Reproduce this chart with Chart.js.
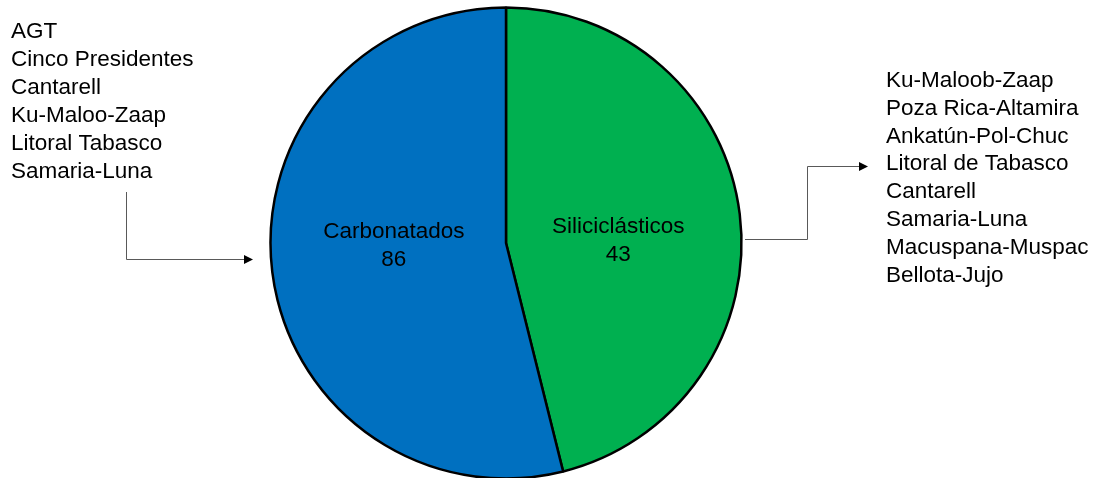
<!DOCTYPE html>
<html>
<head>
<meta charset="utf-8">
<script src="https://cdn.jsdelivr.net/npm/chart.js@4.4.1/dist/chart.umd.min.js"></script>
<style>
  html, body { margin: 0; padding: 0; background: #fff; overflow: hidden; }
  #wrap { position: relative; width: 1097px; height: 478px; }
</style>
</head>
<body>
<div id="wrap"><canvas id="c" width="1097" height="478"></canvas></div>
<script>
// Categories (drawn clockwise from the top)
const categories = ['Siliciclásticos', 'Carbonatados'];
// Counts printed in the data labels
const counts = [43, 86];
// Slice shares (percent)
const shares = [46.1, 53.9];
const sliceColors = ['#00B050', '#0070C0'];

// Fields listed next to each slice
const carbonatadosFields = ['AGT', 'Cinco Presidentes', 'Cantarell', 'Ku-Maloo-Zaap', 'Litoral Tabasco', 'Samaria-Luna'];
const siliciclasticosFields = ['Ku-Maloob-Zaap', 'Poza Rica-Altamira', 'Ankatún-Pol-Chuc', 'Litoral de Tabasco', 'Cantarell', 'Samaria-Luna', 'Macuspana-Muspac', 'Bellota-Jujo'];

const FONT = '22.5px "Liberation Sans", Arial, sans-serif';

function arrowHead(ctx, x, y) {
  ctx.beginPath();
  ctx.moveTo(x, y);
  ctx.lineTo(x - 9, y - 4.5);
  ctx.lineTo(x - 9, y + 4.5);
  ctx.closePath();
  ctx.fill();
}

const decorPlugin = {
  id: 'decor',
  afterDatasetsDraw(chart) {
    const ctx = chart.ctx;
    const meta = chart.getDatasetMeta(0);
    ctx.save();
    ctx.font = FONT;
    ctx.fillStyle = '#000';
    ctx.textAlign = 'center';
    ctx.textBaseline = 'alphabetic';
    meta.data.forEach((arc, i) => {
      const p = arc.getProps(['x', 'y', 'startAngle', 'endAngle', 'outerRadius'], true);
      const mid = (p.startAngle + p.endAngle) / 2;
      const r = 0.48 * p.outerRadius;
      const dx = r * Math.cos(mid);
      const dy = r * Math.sin(mid);
      const x = p.x + dx;
      const y = p.y - 1 + 0.2 * dy;
      ctx.fillText(categories[i], x, y - 6.5);
      ctx.fillText(String(counts[i]), x, y + 21.5);
    });

    // Field lists
    ctx.textAlign = 'left';
    carbonatadosFields.forEach((t, i) => ctx.fillText(t, 11, 38.3 + 28 * i));
    siliciclasticosFields.forEach((t, i) => ctx.fillText(t, 886, 87 + 27.8 * i));

    // Connector arrows
    ctx.strokeStyle = '#595959';
    ctx.lineWidth = 1;
    ctx.beginPath();
    ctx.moveTo(126.5, 192);
    ctx.lineTo(126.5, 259.5);
    ctx.lineTo(246, 259.5);
    ctx.stroke();
    ctx.fillStyle = '#000';
    arrowHead(ctx, 253, 259.5);

    ctx.beginPath();
    ctx.moveTo(745, 239.5);
    ctx.lineTo(807.5, 239.5);
    ctx.lineTo(807.5, 166.5);
    ctx.lineTo(861, 166.5);
    ctx.stroke();
    arrowHead(ctx, 868, 166.5);
    ctx.restore();
  }
};

new Chart(document.getElementById('c'), {
  type: 'pie',
  data: {
    labels: categories,
    datasets: [{
      data: shares,
      backgroundColor: sliceColors,
      borderColor: '#000',
      borderWidth: 2.5,
      clip: false
    }]
  },
  options: {
    responsive: false,
    animation: false,
    radius: 235.5,
    layout: { padding: { left: 270, right: 355, top: 8, bottom: 0 } },
    plugins: { legend: { display: false }, tooltip: { enabled: false } }
  },
  plugins: [decorPlugin]
});
</script>
</body>
</html>
